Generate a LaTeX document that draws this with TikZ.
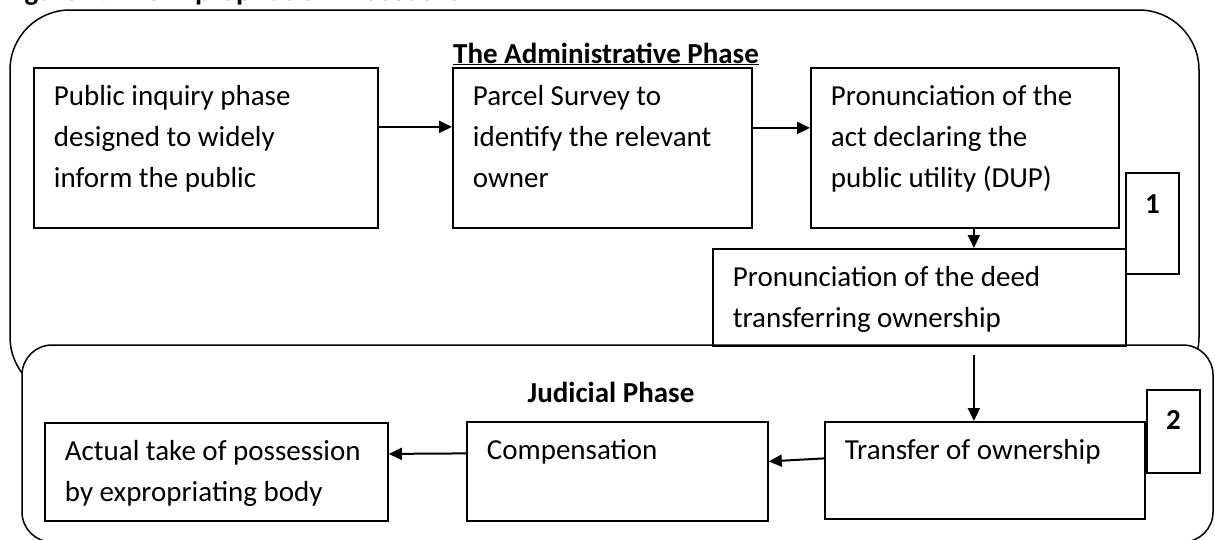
\documentclass[tikz,border=0pt]{standalone}
\usepackage{fontspec}
\setmainfont{Carlito}
\usetikzlibrary{arrows.meta,calc}

\begin{document}
\begin{tikzpicture}[x=1pt,y=-1pt,
  sig/.style={-{Triangle[length=13pt,width=12pt]},line width=2pt},
  box/.style={draw,line width=1.8pt,anchor=north west,align=flush left,
    font=\fontsize{29}{41}\selectfont,inner xsep=20pt,inner ysep=0pt,text height=38pt},
  numbox/.style={draw,line width=1.8pt,anchor=north west,inner sep=0pt,
    minimum width=53pt,font=\bfseries\fontsize{29}{35}\selectfont},
  head/.style={anchor=base,inner sep=0pt,font=\bfseries\fontsize{29}{35}\selectfont}]
\useasboundingbox (0,0) rectangle (1215,539);
% caption, cut off by the page edge
\node[head,anchor=base west] (caption) at (4,0.5) {Figure 1: The Expropriation Procedure};
% phase frames
\draw[line width=1.5pt,rounded corners=60pt] (10,10) rectangle (1199,397);
\draw[line width=1.5pt,rounded corners=30pt,fill=white] (22,345) rectangle (1213,542);
% administrative phase
\node[head] (admin) at (606,63) {\underline{The Administrative Phase}};
\node[box,text width=304pt,text depth=122pt] (inquiry) at (33,67)
  {Public inquiry phase\\designed to widely\\inform the public};
\node[box,text width=259pt,text depth=122pt] (survey) at (452,67)
  {Parcel Survey to\\identify the relevant\\owner};
\node[box,text width=268pt,text depth=122pt] (dup) at (810,67)
  {Pronunciation of the\\act declaring the\\public utility (DUP)};
\node[numbox,text height=41pt,text depth=60pt] (one) at (1125,172) {1};
\node[box,text width=373pt,text depth=59pt] (deed) at (712,248)
  {Pronunciation of the deed\\transferring ownership};
% judicial phase
\node[head] (judicial) at (611,402) {Judicial Phase};
\node[box,text width=280pt,text depth=59pt] (transfer) at (824,421)
  {Transfer of ownership};
\node[numbox,text height=40pt,text depth=43pt] (two) at (1146,389) {2};
\node[box,text width=261pt,text depth=61pt] (compensation) at (466,421)
  {Compensation};
\node[box,text width=303pt,text depth=60pt] (possession) at (44,422)
  {Actual take of possession\\by expropriating body};
% flow
\draw[sig] ([yshift=21pt]inquiry.east) -- ([yshift=21pt]survey.west);
\draw[sig] ([yshift=20pt]survey.east) -- ([yshift=20pt]dup.west);
\draw[sig] ([xshift=9pt]dup.south) -- ([xshift=9pt]dup.south |- deed.north);
\draw[sig] ($(deed.south -| transfer.north)+(-11,8)$) -- ([xshift=-11pt]transfer.north);
\draw[sig] ([yshift=12pt]transfer.west) -- ([yshift=10pt]compensation.east);
\draw[sig] ([yshift=18pt]compensation.west) -- ([yshift=18pt]possession.east);
\end{tikzpicture}
\end{document}
